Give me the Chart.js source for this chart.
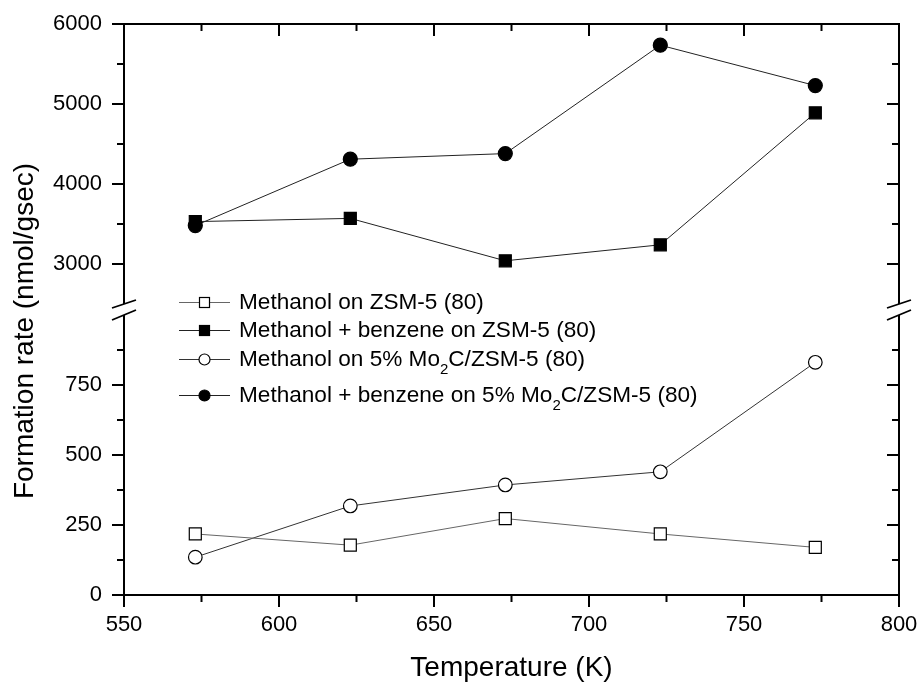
<!DOCTYPE html>
<html>
<head>
<meta charset="utf-8">
<script src="https://cdn.jsdelivr.net/npm/chart.js@4.4.1/dist/chart.umd.min.js"></script>
<style>
html, body { margin: 0; padding: 0; background: #fff; }
#wrap { position: relative; width: 919px; height: 682px; }
#legend { position: absolute; left: 0; top: 0; font-family: "Liberation Sans", Arial, sans-serif; font-size: 22.6px; color: #000; }
.row { position: absolute; left: 179px; height: 28px; display: flex; align-items: center; white-space: nowrap; }
.row svg { margin-right: 8px; }
.sub { font-size: 15px; position: relative; top: 8px; }
</style>
</head>
<body>
<div id="wrap">
  <canvas id="rates" width="919" height="682"></canvas>
  <div id="legend"></div>
</div>
<script>
// data
const temps = [573, 623, 673, 723, 773];
const methZsm = [218, 178, 273, 218, 170];
const methBenzZsm = [3530, 3570, 3040, 3240, 4890];
const methMo = [135, 318, 393, 440, 831];
const methBenzMo = [3480, 4310, 4380, 5735, 5230];

const xTicks = [550, 600, 650, 700, 750, 800];
const yLowTicks = [0, 250, 500, 750];
const yHighTicks = [3000, 4000, 5000, 6000];
const lowRange = [0, 1000];
const highRange = [2500, 6000];
const gapFrac = 11 / 571;

const FONT = '"Liberation Sans", Arial, sans-serif';

// y scale with a break between lowRange and highRange
class BrokenScale extends Chart.LinearScale {
    getPixelForValue(v) {
        const h = this.bottom - this.top;
        const seg = h * (1 - gapFrac) / 2;
        if (v <= lowRange[1]) {
            return this.bottom - (v - lowRange[0]) / (lowRange[1] - lowRange[0]) * seg;
        }
        if (v >= highRange[0]) {
            return this.top + (highRange[1] - v) / (highRange[1] - highRange[0]) * seg;
        }
        const t = (v - lowRange[1]) / (highRange[0] - lowRange[1]);
        return this.bottom - seg - t * (h - 2 * seg);
    }
    getValueForPixel(p) {
        const h = this.bottom - this.top;
        const seg = h * (1 - gapFrac) / 2;
        if (p >= this.bottom - seg) {
            return lowRange[0] + (this.bottom - p) / seg * (lowRange[1] - lowRange[0]);
        }
        if (p <= this.top + seg) {
            return highRange[1] - (p - this.top) / seg * (highRange[1] - highRange[0]);
        }
        const t = (this.bottom - seg - p) / (h - 2 * seg);
        return lowRange[1] + t * (highRange[0] - lowRange[1]);
    }
}
BrokenScale.id = 'broken';
BrokenScale.defaults = Chart.LinearScale.defaults;
Chart.register(BrokenScale);

function points(ys) {
    return temps.map((t, i) => ({ x: t, y: ys[i] }));
}

const series = [
    { label: 'Methanol on ZSM-5 (80)', data: methZsm, style: 'rect', fill: '#fff', line: '#666', r: 8.5 },
    { label: 'Methanol + benzene on ZSM-5 (80)', data: methBenzZsm, style: 'rect', fill: '#000', line: '#222', r: 8.5 },
    { label: 'Methanol on 5% Mo<span class="sub">2</span>C/ZSM-5 (80)', data: methMo, style: 'circle', fill: '#fff', line: '#333', r: 6.8 },
    { label: 'Methanol + benzene on 5% Mo<span class="sub">2</span>C/ZSM-5 (80)', data: methBenzMo, style: 'circle', fill: '#000', line: '#222', r: 7 }
];

function line(ctx, x1, y1, x2, y2) {
    ctx.beginPath();
    ctx.moveTo(x1, y1);
    ctx.lineTo(x2, y2);
    ctx.stroke();
}

function minorOf(ticks, max) {
    const step = ticks[1] - ticks[0];
    return ticks.map(v => v + step / 2).filter(v => v < max);
}

function noPadding(s) {
    s.paddingTop = 0;
    s.paddingBottom = 0;
    s.paddingLeft = 0;
    s.paddingRight = 0;
}

// frame, tick marks, axis break and axis titles
const axesFrame = {
    id: 'axesFrame',
    afterDraw(chart) {
        const { ctx, chartArea: a, scales: { x, y } } = chart;
        const breakTop = y.getPixelForValue(highRange[0]);
        const breakBot = y.getPixelForValue(lowRange[1]);
        ctx.save();
        ctx.strokeStyle = '#000';
        ctx.lineWidth = 2;
        line(ctx, a.left - 1, a.top, a.right + 1, a.top);
        line(ctx, a.left - 1, a.bottom, a.right + 1, a.bottom);
        [a.left, a.right].forEach(px => {
            line(ctx, px, a.top, px, breakTop);
            line(ctx, px, breakBot, px, a.bottom);
        });

        // x ticks: outward at bottom, inward at top
        const xMinor = minorOf(xTicks, xTicks[xTicks.length - 1]);
        xTicks.forEach(v => {
            const px = x.getPixelForValue(v);
            line(ctx, px, a.bottom, px, a.bottom + 12);
            line(ctx, px, a.top, px, a.top + 12);
        });
        xMinor.forEach(v => {
            const px = x.getPixelForValue(v);
            line(ctx, px, a.bottom, px, a.bottom + 7);
            line(ctx, px, a.top, px, a.top + 7);
        });

        // y ticks: outward on left, inward on right
        const yMajor = yLowTicks.concat(yHighTicks);
        const yMinor = minorOf(yLowTicks, lowRange[1]).concat(minorOf(yHighTicks, highRange[1]), [yHighTicks[0] - 500]).filter(v => v > highRange[0] || v < lowRange[1]);
        yMajor.forEach(v => {
            const py = y.getPixelForValue(v);
            line(ctx, a.left - 12, py, a.left, py);
            line(ctx, a.right - 12, py, a.right, py);
        });
        yMinor.forEach(v => {
            const py = y.getPixelForValue(v);
            line(ctx, a.left - 7, py, a.left, py);
            line(ctx, a.right - 7, py, a.right, py);
        });

        // break marks
        ctx.lineWidth = 1.8;
        [a.left, a.right].forEach(px => {
            line(ctx, px - 12, breakTop + 4, px + 12, breakTop - 4);
            line(ctx, px - 12, breakBot + 5, px + 12, breakBot - 5);
        });

        // axis titles
        ctx.fillStyle = '#000';
        ctx.font = '28px ' + FONT;
        ctx.textAlign = 'center';
        ctx.textBaseline = 'middle';
        ctx.fillText('Temperature (K)', (a.left + a.right) / 2, 668);
        ctx.translate(25, 331);
        ctx.rotate(-Math.PI / 2);
        ctx.fillText('Formation rate (nmol/gsec)', 0, 0);
        ctx.restore();
    }
};

function initChart() {
    const ctx = document.getElementById('rates');
    new Chart(ctx.getContext('2d'), {
        type: 'line',
        data: {
            datasets: series.map(s => ({
                label: s.label,
                data: points(s.data),
                borderColor: s.line,
                borderWidth: 1,
                pointStyle: s.style,
                pointRadius: s.r,
                pointBackgroundColor: s.fill,
                pointBorderColor: '#000',
                pointBorderWidth: 1.2,
                tension: 0,
                fill: false
            }))
        },
        options: {
            responsive: false,
            animation: false,
            layout: { padding: { left: 0, right: 20, top: 24, bottom: 0 } },
            plugins: {
                legend: { display: false },
                tooltip: { enabled: false }
            },
            scales: {
                x: {
                    type: 'linear',
                    min: xTicks[0],
                    max: xTicks[xTicks.length - 1],
                    afterBuildTicks: s => { s.ticks = xTicks.map(v => ({ value: v })); },
                    afterFit: s => { s.height = 87; noPadding(s); },
                    grid: { display: false, drawTicks: false },
                    border: { display: false },
                    ticks: {
                        padding: 17,
                        color: '#000',
                        font: { family: FONT, size: 22 },
                        maxRotation: 0,
                        callback: v => String(v)
                    }
                },
                y: {
                    type: 'broken',
                    min: lowRange[0],
                    max: highRange[1],
                    afterBuildTicks: s => { s.ticks = yLowTicks.concat(yHighTicks).map(v => ({ value: v })); },
                    afterFit: s => { s.width = 124; noPadding(s); },
                    grid: { display: false, drawTicks: false },
                    border: { display: false },
                    ticks: {
                        padding: 22,
                        color: '#000',
                        font: { family: FONT, size: 22 },
                        callback: v => String(v)
                    }
                }
            }
        },
        plugins: [axesFrame]
    });
}

function markerSvg(s) {
    const shape = s.style === 'rect'
        ? '<rect x="20.5" y="4.5" width="10" height="10" fill="' + s.fill + '" stroke="#000" stroke-width="1.2"/>'
        : '<circle cx="25.5" cy="9.5" r="5.5" fill="' + s.fill + '" stroke="#000" stroke-width="1.2"/>';
    return '<svg width="52" height="19"><line x1="0" y1="9.5" x2="51" y2="9.5" stroke="' + s.line + '" stroke-width="1.2"/>' + shape + '</svg>';
}

function initLegend() {
    const rowCenters = [302, 330, 359, 395];
    const legend = document.getElementById('legend');
    series.forEach((s, i) => {
        const row = document.createElement('div');
        row.className = 'row';
        row.style.top = (rowCenters[i] - 14) + 'px';
        row.innerHTML = markerSvg(s) + '<span>' + s.label + '</span>';
        legend.appendChild(row);
    });
}

document.addEventListener('DOMContentLoaded', function() {
    initChart();
    initLegend();
});
</script>
</body>
</html>
